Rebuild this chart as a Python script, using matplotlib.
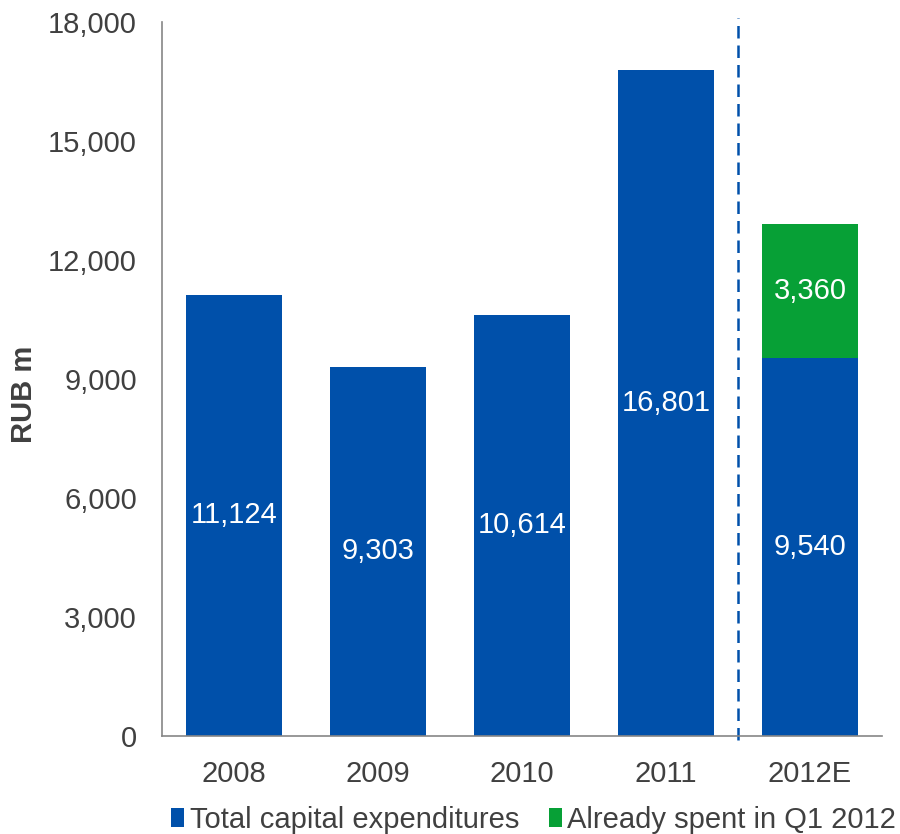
import matplotlib.pyplot as plt
from matplotlib.ticker import FuncFormatter

years = ['2008', '2009', '2010', '2011', '2012E']
capex = [11124, 9303, 10614, 16801, 9540]
spent_q1 = [0, 0, 0, 0, 3360]

blue = '#0050AA'
green = '#07A036'
fs = 21

plt.rcParams['font.family'] = ['Liberation Sans', 'DejaVu Sans']
plt.rcParams['font.size'] = fs

fig = plt.figure(figsize=(9, 8.34), dpi=100)
ax = fig.add_axes([0.18, 0.1175, 0.80, 0.8561])

x = list(range(len(years)))
ax.bar(x, capex, width=0.667, color=blue, label='Total capital expenditures')
ax.bar(x[-1:], spent_q1[-1:], width=0.667, bottom=capex[-1:], color=green,
       label='Already spent in Q1 2012')

# value labels in the middle of each segment
for i, v in enumerate(capex):
    ax.text(i, v / 2, f'{v:,}', ha='center', va='center', color='white', fontsize=fs)
ax.text(x[-1], capex[-1] + spent_q1[-1] / 2, f'{spent_q1[-1]:,}', ha='center', va='center',
        color='white', fontsize=fs)

# forecast separator
ax.plot([3.5, 3.5], [-100, 18100], color=blue, lw=1.8, dashes=(5, 2.8), clip_on=False)

ax.set_xlim(-0.5, 4.5)
ax.set_ylim(0, 18000)
ax.set_yticks(range(0, 18001, 3000))
ax.yaxis.set_major_formatter(FuncFormatter(lambda v, p: f'{int(v):,}'))
ax.set_xticks(x)
ax.set_xticklabels(years)
ax.tick_params(length=0, colors='#404040', labelsize=fs)
ax.tick_params(axis='y', pad=18)
ax.tick_params(axis='x', pad=17)

for s in ['top', 'right']:
    ax.spines[s].set_visible(False)
for s in ['left', 'bottom']:
    ax.spines[s].set_color('#868686')
    ax.spines[s].set_linewidth(1.2)

ax.set_ylabel('RUB m', fontweight='bold', color='#404040', fontsize=fs)
ax.yaxis.set_label_coords(-0.172, 0.478)

fig.legend(loc='center', bbox_to_anchor=(0.593, 0.017), ncol=2, frameon=False,
           handlelength=0.45, handleheight=0.6, handletextpad=0.2, columnspacing=1.0,
           fontsize=fs, labelcolor='#404040', borderaxespad=0)

plt.savefig('out.png', dpi=100)
